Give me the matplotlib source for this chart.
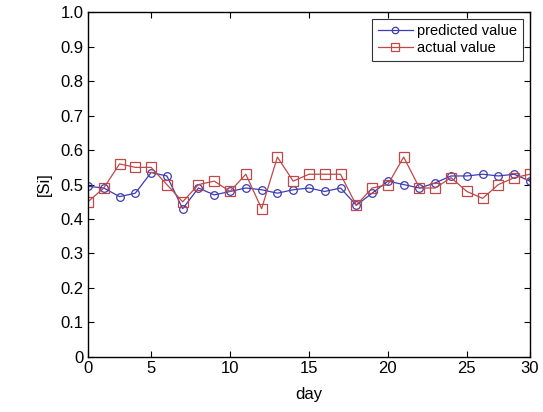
import matplotlib
matplotlib.use("Agg")
import matplotlib.pyplot as plt
import numpy as np

plt.rcParams["font.family"] = ["Liberation Sans", "DejaVu Sans"]

days = np.arange(1, 30)
predicted = [0.495, 0.49, 0.465, 0.475, 0.535, 0.525, 0.43, 0.49, 0.47, 0.48,
             0.49, 0.485, 0.475, 0.485, 0.49, 0.48, 0.49, 0.44, 0.475, 0.51,
             0.50, 0.49, 0.505, 0.525, 0.525, 0.53, 0.525, 0.53, 0.51]
actual = [0.45, 0.49, 0.56, 0.55, 0.55, 0.50, 0.45, 0.50, 0.51, 0.48,
          0.53, 0.43, 0.58, 0.51, 0.53, 0.53, 0.53, 0.44, 0.49, 0.50,
          0.58, 0.49, 0.49, 0.52, 0.48, 0.46, 0.50, 0.52, 0.53]
xtick_pos = [1, 5, 10, 15, 20, 25, 29]
xtick_labels = ["0", "5", "10", "15", "20", "25", "30"]

fig = plt.figure(figsize=(5.43, 4.12), dpi=100)
ax = fig.add_axes([0.162, 0.134, 0.814, 0.836])

ax.plot(days, predicted, color="#3c3cb4", linewidth=0.9, marker="o",
        markersize=5.5, markerfacecolor="none", markeredgewidth=0.9,
        label="predicted value")
ax.plot(days, actual, color="#c04848", linewidth=0.9, marker="s",
        markersize=6.5, markerfacecolor="none", markeredgewidth=0.9,
        label="actual value")

ax.set_xlim(1, 29)
ax.set_ylim(0, 1.0)
ax.set_xticks(xtick_pos)
ax.set_xticklabels(xtick_labels)
ax.set_yticks(np.round(np.arange(0, 1.01, 0.1), 1))
ax.set_yticklabels(["0"] + [f"{v:.1f}" for v in np.arange(0.1, 1.01, 0.1)])
ax.tick_params(direction="in", top=True, right=True, length=4,
               labelsize=12, colors="black", pad=3)
for s in ax.spines.values():
    s.set_linewidth(1.0)

ax.set_xlabel("day", fontsize=12, labelpad=8)
ax.set_ylabel("[Si]", fontsize=12, labelpad=6)

leg = ax.legend(loc="upper right", bbox_to_anchor=(0.984, 0.982),
                fontsize=10.5, frameon=True, fancybox=False,
                edgecolor="black", borderpad=0.4, labelspacing=0.2,
                handlelength=2.4, handletextpad=0.3, borderaxespad=0.0,
                markerscale=0.85)
leg.get_frame().set_linewidth(0.8)

fig.savefig("out.png", dpi=100)
